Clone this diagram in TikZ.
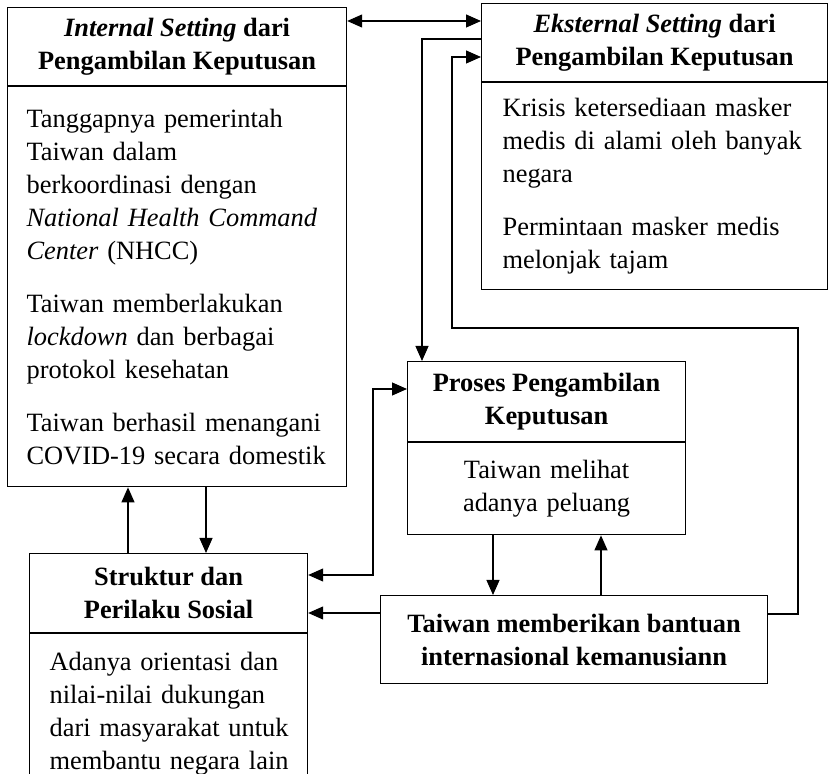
\documentclass[tikz,border=0pt]{standalone}
\usepackage{fontspec}
\setmainfont{Liberation Serif}
\usetikzlibrary{arrows.meta}

\begin{document}
\begin{tikzpicture}[x=0.5pt,y=-0.5pt,line width=0.6pt,
    font=\fontsize{13.2}{16.5}\selectfont,
    head/.style={draw, anchor=north west, inner sep=0pt, align=center,
      font=\fontsize{13.2}{16.5}\selectfont\bfseries},
    body/.style={draw, anchor=north, align=left, inner ysep=0pt},
    arr/.style={-{Triangle[length=7.5pt,width=6.5pt]}},
    both/.style={{Triangle[length=7.5pt,width=6.5pt]}-{Triangle[length=7.5pt,width=6.5pt]}}]
  \clip (0,0) rectangle (832,774);

  % internal setting
  \node[head, minimum width=169.5pt, minimum height=39pt] (inth) at (7,7)
    {\textit{Internal Setting} dari\\Pengambilan Keputusan};
  \node[body, text width=150.5pt, inner xsep=9.5pt, minimum height=200pt] (intb) at (inth.south)
    {Tanggapnya pemerintah\\Taiwan dalam\\berkoordinasi dengan\\\textit{National Health Command}\\\textit{Center} (NHCC)\\[10pt]
     Taiwan memberlakukan\\\textit{lockdown} dan berbagai\\protokol kesehatan\\[10pt]
     Taiwan berhasil menangani\\COVID-19 secara domestik};

  % eksternal setting
  \node[head, minimum width=173pt, minimum height=39pt] (exth) at (481,3)
    {\textit{Eksternal Setting} dari\\Pengambilan Keputusan};
  \node[body, text width=152pt, inner xsep=10.5pt, minimum height=103.5pt] (extb) at (exth.south)
    {Krisis ketersediaan masker\\medis di alami oleh banyak\\negara\\[10pt]
     Permintaan masker medis\\melonjak tajam};

  % proses
  \node[head, minimum width=139pt, minimum height=40pt] (proh) at (407,361)
    {Proses Pengambilan\\Keputusan};
  \node[body, align=center, text width=139pt, inner xsep=0pt, minimum height=46pt] (prob) at (proh.south)
    {Taiwan melihat\\adanya peluang};

  % struktur
  \node[head, minimum width=139pt, minimum height=39.5pt] (strh) at (29,553)
    {Struktur dan\\Perilaku Sosial};
  \node[body, text width=119pt, inner xsep=10pt, inner ysep=9pt] (strb) at (strh.south)
    {\mbox{Adanya orientasi dan}\\\mbox{nilai-nilai dukungan}\\\mbox{dari masyarakat untuk}\\\mbox{membantu negara lain}\\[4pt]~};

  % bantuan
  \node[head, minimum width=193.5pt, minimum height=44pt] (tai) at (380,595)
    {Taiwan memberikan bantuan\\internasional kemanusiann};

  \draw[both] (inth.east |- 0,21) -- (exth.west |- 0,21);
  \draw[arr] (exth.west |- 0,39) -| (proh.north -| 422,0);
  \draw[arr] (tai.east |- 0,614) -- (798,614) |- (452,328) |- (exth.west |- 0,57);
  \draw[both] (strh.east |- 0,575) -| (373,389) -- (proh.west |- 0,389);
  \draw[arr] (prob.south -| 493,0) -- (tai.north -| 493,0);
  \draw[arr] (tai.north -| 601,0) -- (prob.south -| 601,0);
  \draw[arr] (tai.west |- 0,613) -- (strh.east |- 0,613);
  \draw[arr] (strh.north -| 128,0) -- (intb.south -| 128,0);
  \draw[arr] (intb.south -| 206,0) -- (strh.north -| 206,0);
\end{tikzpicture}
\end{document}
